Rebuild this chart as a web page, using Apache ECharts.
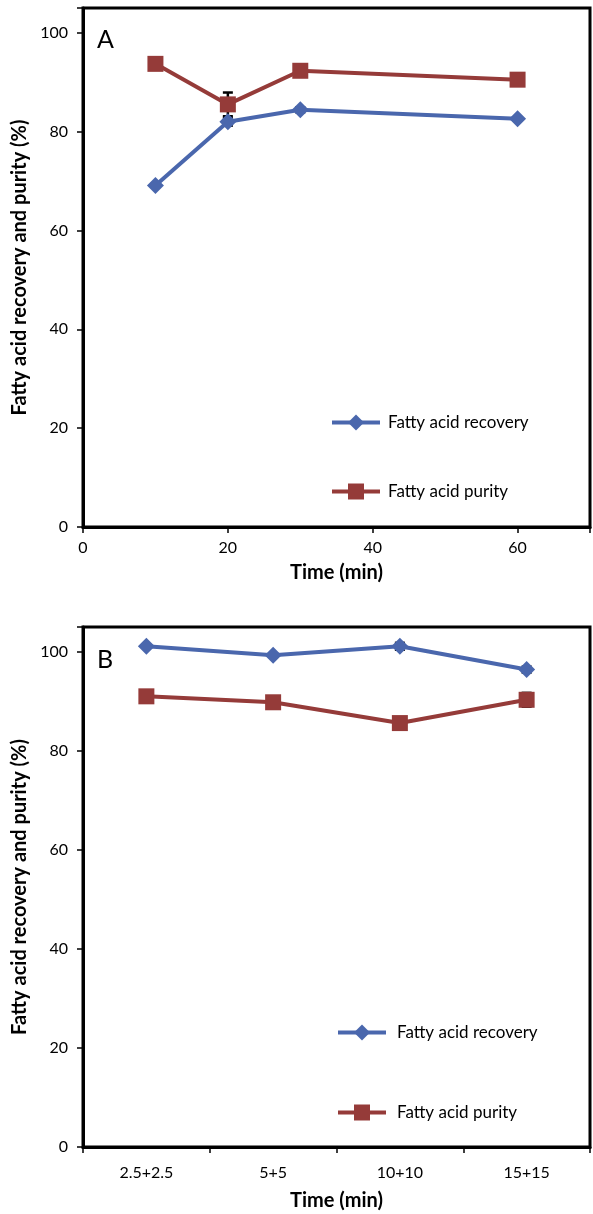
<!DOCTYPE html>
<html>
<head>
<meta charset="utf-8">
<script src="https://cdn.jsdelivr.net/npm/echarts@6/dist/echarts.min.js"></script>
<style>
  html, body { margin: 0; padding: 0; background: #fff; }
  #chart { width: 593px; height: 1214px; }
</style>
</head>
<body>
<div id="chart"></div>
<script>
// panel A: time (min)
var timeA = [10, 20, 30, 60];
var recoveryA = [69.1, 82.0, 84.4, 82.6];
var recoveryErrA = [0.3, 0.8, 0.5, 0.3];
var purityA = [93.7, 85.5, 92.3, 90.5];
var purityErrA = [0.3, 2.4, 0.5, 0.3];

// panel B: time (min) categories
var timeB = ["2.5+2.5", "5+5", "10+10", "15+15"];
var recoveryB = [101.1, 99.3, 101.1, 96.4];
var recoveryErrB = [0.3, 0.3, 0.7, 0.6];
var purityB = [91.0, 89.8, 85.6, 90.3];
var purityErrB = [0.3, 0.3, 0.3, 1.4];

var yTicks = [0, 20, 40, 60, 80, 100];

var blue = "#4a67ad";
var red = "#953b39";
var font = "Lato, 'Open Sans', sans-serif";

var chart = echarts.init(document.getElementById("chart"));

function errData(xs, ys, errs) {
  return xs.map(function (x, i) {
    return [x, ys[i] - errs[i], ys[i] + errs[i]];
  });
}

// error bars drawn under the markers
function errSeries(idx, data) {
  return {
    type: "custom",
    xAxisIndex: idx,
    yAxisIndex: idx,
    z: 1,
    silent: true,
    data: data,
    renderItem: function (params, api) {
      var lo = api.coord([api.value(0), api.value(1)]);
      var hi = api.coord([api.value(0), api.value(2)]);
      var w = 5;
      var st = { stroke: "#000", lineWidth: 2.5 };
      return {
        type: "group",
        children: [
          { type: "line", shape: { x1: lo[0], y1: lo[1], x2: hi[0], y2: hi[1] }, style: st },
          { type: "line", shape: { x1: lo[0] - w, y1: lo[1], x2: lo[0] + w, y2: lo[1] }, style: st },
          { type: "line", shape: { x1: hi[0] - w, y1: hi[1], x2: hi[0] + w, y2: hi[1] }, style: st }
        ]
      };
    }
  };
}

function lineSeries(idx, name, data, color, symbol, size) {
  return {
    type: "line",
    name: name,
    xAxisIndex: idx,
    yAxisIndex: idx,
    z: 3,
    data: data,
    symbol: symbol,
    symbolSize: size,
    showAllSymbol: true,
    lineStyle: { color: color, width: 4 },
    itemStyle: { color: color, borderWidth: 0 }
  };
}

function yAxis(idx) {
  return {
    type: "value",
    gridIndex: idx,
    min: 0,
    max: 105,
    interval: 20,
    name: "Fatty acid recovery and purity (%)",
    nameLocation: "middle",
    nameGap: 38,
    nameTextStyle: { fontFamily: font, fontWeight: "bold", fontSize: 20, color: "#000" },
    axisLine: { show: true, lineStyle: { color: "#000", width: 3 } },
    axisTick: { show: true, inside: false, length: 6, lineStyle: { color: "#000", width: 1.5 } },
    axisLabel: {
      fontFamily: font, fontSize: 16, color: "#000", margin: 15,
      formatter: function (v) { return yTicks.indexOf(v) >= 0 ? String(v) : ""; }
    },
    splitLine: { show: false }
  };
}

function legend(left, top, gap, pad) {
  return {
    orient: "vertical",
    left: left,
    top: top,
    padding: 0,
    itemWidth: 48,
    itemHeight: 20,
    itemGap: gap,
    selectedMode: false,
    lineStyle: { width: 4 },
    textStyle: { fontFamily: font, fontSize: 17, color: "#000", padding: [0, 0, 0, pad] },
    data: ["Fatty acid recovery", "Fatty acid purity"]
  };
}

var option = {
  animation: false,
  backgroundColor: "#fff",
  grid: [
    { left: 83, top: 8, width: 507, height: 519, show: true, borderColor: "#000", borderWidth: 3 },
    { left: 83, top: 627, width: 507, height: 520, show: true, borderColor: "#000", borderWidth: 3 }
  ],
  xAxis: [
    {
      type: "value",
      gridIndex: 0,
      min: 0,
      max: 70,
      interval: 20,
      name: "Time (min)",
      nameLocation: "middle",
      nameGap: 36,
      nameTextStyle: { fontFamily: font, fontWeight: "bold", fontSize: 20, color: "#000" },
      axisLine: { show: true, onZero: false, lineStyle: { color: "#000", width: 3 } },
      axisTick: { show: true, inside: false, length: 6, lineStyle: { color: "#000", width: 1.5 } },
      axisLabel: {
        fontFamily: font, fontSize: 16, color: "#000", margin: 13,
        formatter: function (v) { return v % 20 === 0 ? String(v) : ""; }
      },
      splitLine: { show: false }
    },
    {
      type: "category",
      gridIndex: 1,
      data: timeB,
      boundaryGap: true,
      name: "Time (min)",
      nameLocation: "middle",
      nameGap: 44,
      nameTextStyle: { fontFamily: font, fontWeight: "bold", fontSize: 20, color: "#000" },
      axisLine: { show: true, onZero: false, lineStyle: { color: "#000", width: 3 } },
      axisTick: { show: true, inside: false, length: 6, alignWithLabel: false, lineStyle: { color: "#000", width: 1.5 } },
      axisLabel: { fontFamily: font, fontSize: 16, color: "#000", margin: 18 },
      splitLine: { show: false }
    }
  ],
  yAxis: [yAxis(0), yAxis(1)],
  legend: [legend(330, 414, 52, 3), legend(336, 1024, 63, 6)],
  graphic: [
    { type: "text", left: 97, top: 27, style: { text: "A", fontFamily: font, fontSize: 25, fill: "#000" } },
    { type: "text", left: 97, top: 647, style: { text: "B", fontFamily: font, fontSize: 25, fill: "#000" } }
  ],
  series: [
    errSeries(0, errData(timeA, recoveryA, recoveryErrA)),
    errSeries(0, errData(timeA, purityA, purityErrA)),
    lineSeries(0, "Fatty acid recovery", timeA.map(function (t, i) { return [t, recoveryA[i]]; }), blue, "diamond", 17),
    lineSeries(0, "Fatty acid purity", timeA.map(function (t, i) { return [t, purityA[i]]; }), red, "rect", 16),
    errSeries(1, errData([0, 1, 2, 3], recoveryB, recoveryErrB)),
    errSeries(1, errData([0, 1, 2, 3], purityB, purityErrB)),
    lineSeries(1, "Fatty acid recovery", recoveryB, blue, "diamond", 17),
    lineSeries(1, "Fatty acid purity", purityB, red, "rect", 16)
  ]
};

chart.setOption(option);
</script>
</body>
</html>
